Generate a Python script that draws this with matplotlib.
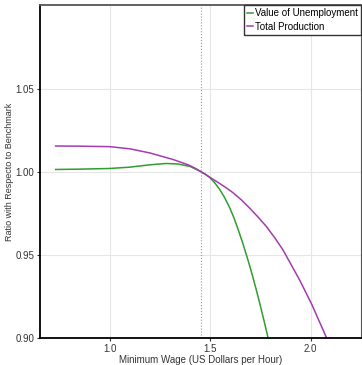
import matplotlib
matplotlib.use('Agg')
import matplotlib.pyplot as plt

plt.rcParams['font.family'] = ['Liberation Sans', 'DejaVu Sans']

# values (ratio to benchmark)
wage_unemp = [0.73, 0.85, 1.0, 1.10, 1.20, 1.28, 1.34, 1.40, 1.455, 1.477,
              1.4975, 1.522, 1.547, 1.572, 1.597, 1.618, 1.638, 1.66, 1.680,
              1.697, 1.713, 1.73, 1.746, 1.767, 1.788]
value_unemp = [1.0014, 1.0016, 1.002, 1.0028, 1.0042, 1.005, 1.0047, 1.0032, 1.0,
               0.9985, 0.9966, 0.9935, 0.9895, 0.9845, 0.9785, 0.9725, 0.9658,
               0.9580, 0.9503, 0.9435, 0.9366, 0.9290, 0.9215, 0.9112, 0.9005]

wage_prod = [0.73, 0.85, 1.0, 1.10, 1.20, 1.315, 1.39, 1.425, 1.455, 1.4975,
             1.547, 1.58, 1.613, 1.655, 1.6965, 1.738, 1.7796, 1.821, 1.8622,
             1.9453, 2.0035, 2.081]
total_prod = [1.0155, 1.0154, 1.0151, 1.0138, 1.0113, 1.0074, 1.0042, 1.0022, 1.0,
              0.9968, 0.9930, 0.9904, 0.9875, 0.9832, 0.9782, 0.9729, 0.9672,
              0.9605, 0.9532, 0.9351, 0.9211, 0.90]

benchmark_wage = 1.455

fig = plt.figure(figsize=(3.62, 3.65), dpi=100)
ax = fig.add_axes([0.1105, 0.0731, 0.887, 0.9124])

ax.plot(wage_unemp, value_unemp, color='#2e9e2e', lw=1.1, label='Value of Unemployment',
        solid_joinstyle='round')
ax.plot(wage_prod, total_prod, color='#a43bb0', lw=1.1, label='Total Production',
        solid_joinstyle='round')
ax.axvline(benchmark_wage, color='#999999', lw=0.8, ls=':')

ax.set_xlim(0.652, 2.252)
ax.set_ylim(0.9, 1.1)
ax.set_xticks([1.0, 1.5, 2.0])
ax.set_yticks([0.90, 0.95, 1.00, 1.05])
ax.set_xticklabels(['1.0', '1.5', '2.0'])
ax.set_yticklabels(['0.90', '0.95', '1.00', '1.05'])
ax.grid(True, color='#e6e6e6', lw=0.8)
ax.set_axisbelow(True)
ax.tick_params(labelsize=7, length=2.5, width=0.8, colors='#333333', pad=1.5)

for s in ['left', 'bottom']:
    ax.spines[s].set_color('black')
    ax.spines[s].set_linewidth(1.3)
ax.spines['top'].set_color('#555555')
ax.spines['top'].set_linewidth(1.3)
ax.spines['right'].set_color('#555555')

ax.set_xlabel('Minimum Wage (US Dollars per Hour)', fontsize=7, color='#333333', labelpad=1)
ax.set_ylabel('Ratio with Respecto to Benchmark', fontsize=6.5, color='#333333', labelpad=1)

leg = ax.legend(loc='upper right', fontsize=7, handlelength=0.65, handletextpad=0.25,
                borderpad=0.3, labelspacing=0.35, fancybox=False, framealpha=1,
                borderaxespad=0.0)
leg.get_frame().set_edgecolor('#333333')
leg.get_frame().set_linewidth(1.0)

fig.savefig('out.png', dpi=100)
